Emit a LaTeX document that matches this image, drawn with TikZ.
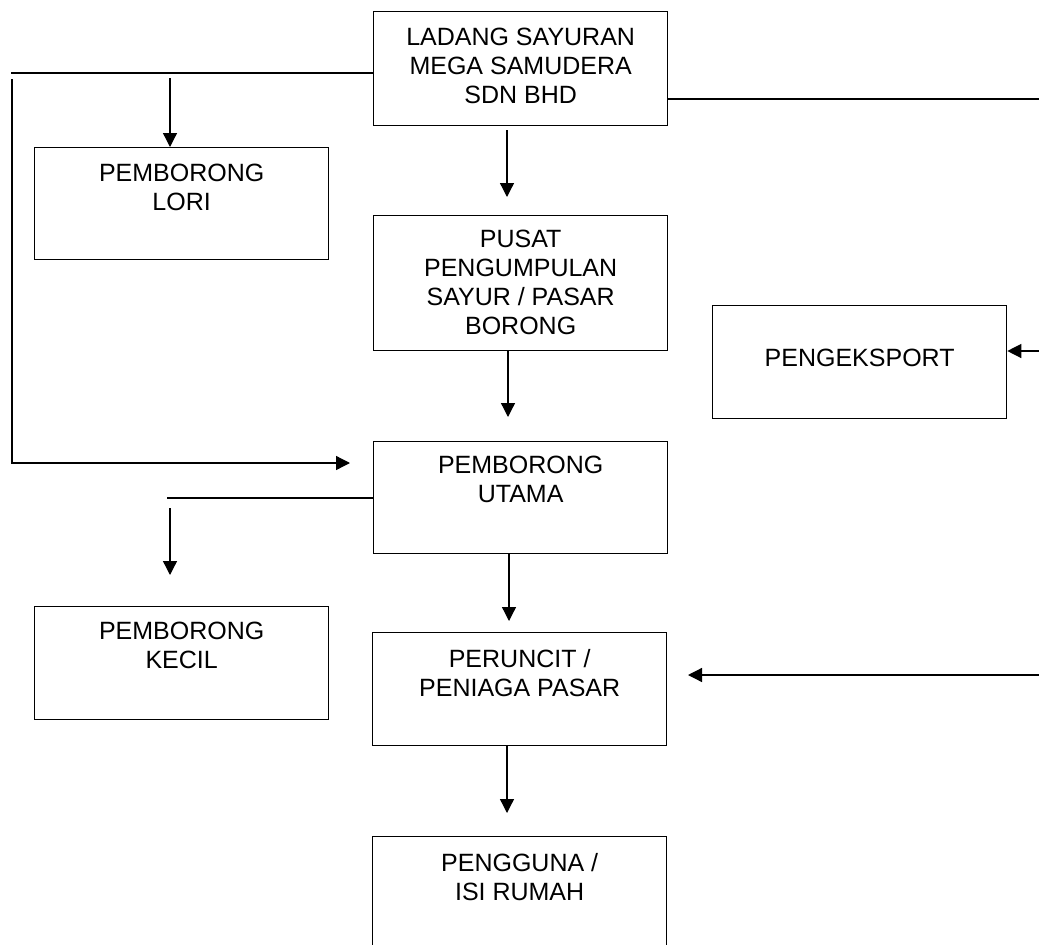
\documentclass[tikz,border=0pt]{standalone}
\usepackage{fontspec}
\setmainfont{Liberation Sans}
\usetikzlibrary{arrows.meta}
\begin{document}
\begin{tikzpicture}[x=1pt,y=-1pt,
  box/.style={draw, line width=1.3pt, minimum width=294pt, anchor=north west, inner sep=0pt},
  lbl/.style={anchor=north, align=center, inner sep=0pt, font=\fontsize{25}{29}\selectfont},
  ln/.style={line width=1.3pt},
  arr/.style={line width=1.3pt, -{Triangle[length=14pt,width=14pt]}}]
\useasboundingbox (0,0) rectangle (1039,945);
\clip (0,0) rectangle (1039,945);
% boxes
\node[box, minimum height=114pt] (ladang) at (373,11) {};
\node[box, minimum height=112pt] (lori) at (34,147) {};
\node[box, minimum height=135pt] (pusat) at (373,215) {};
\node[box, minimum height=113pt] (ekspor) at (712,305) {};
\node[box, minimum height=112pt] (utama) at (373,441) {};
\node[box, minimum height=113pt] (kecil) at (34,606) {};
\node[box, minimum height=113pt] (runcit) at (372,632) {};
\node[box, minimum height=140pt] (guna) at (372,836) {};
% labels
\node[lbl] (ladangT) at ([yshift=-17pt]ladang.north) {LADANG SAYURAN\\MEGA SAMUDERA\\SDN BHD};
\node[lbl] (loriT) at ([yshift=-17pt]lori.north) {PEMBORONG\\LORI};
\node[lbl] (pusatT) at ([yshift=-15pt]pusat.north) {PUSAT\\PENGUMPULAN\\SAYUR / PASAR\\BORONG};
\node[lbl] (eksporT) at ([yshift=-44pt]ekspor.north) {PENGEKSPORT};
\node[lbl] (utamaT) at ([yshift=-15pt]utama.north) {PEMBORONG\\UTAMA};
\node[lbl] (kecilT) at ([yshift=-16pt]kecil.north) {PEMBORONG\\KECIL};
\node[lbl] (runcitT) at ([yshift=-17pt]runcit.north) {PERUNCIT /\\PENIAGA PASAR};
\node[lbl] (gunaT) at ([yshift=-17pt]guna.north) {PENGGUNA /\\ISI RUMAH};
% free ends
\coordinate (tl) at (11,73);
\coordinate (lv) at (12,79);
\coordinate (lc) at (12,463);
\coordinate (lt) at (350,463);
\coordinate (la) at (170,78);
\coordinate (c1) at (507,130);
\coordinate (c2) at (507,197);
\coordinate (tr) at (1039,99);
\coordinate (er) at (1039,351);
\coordinate (pu) at (508,417);
\coordinate (ul) at (167,498);
\coordinate (ka) at (170,508);
\coordinate (kb) at (170,575);
\coordinate (ur) at (509,621);
\coordinate (rr) at (1039,675);
\coordinate (rt) at (688,675);
\coordinate (rg) at (507,813);
% connectors
\draw[ln] (ladang.west |- tl) -- (tl);
\draw[arr] (lv) -- (lc) -- (lt);
\draw[arr] (la) -- (la |- lori.north);
\draw[arr] (c1) -- (c2);
\draw[ln] (ladang.east |- tr) -- (tr);
\draw[arr] (er) -- (ekspor.east |- er);
\draw[arr] (pusat.south -| pu) -- (pu);
\draw[ln] (utama.west |- ul) -- (ul);
\draw[arr] (ka) -- (kb);
\draw[arr] (utama.south -| ur) -- (ur);
\draw[arr] (rr) -- (rt);
\draw[arr] (runcit.south -| rg) -- (rg);
\end{tikzpicture}
\end{document}
